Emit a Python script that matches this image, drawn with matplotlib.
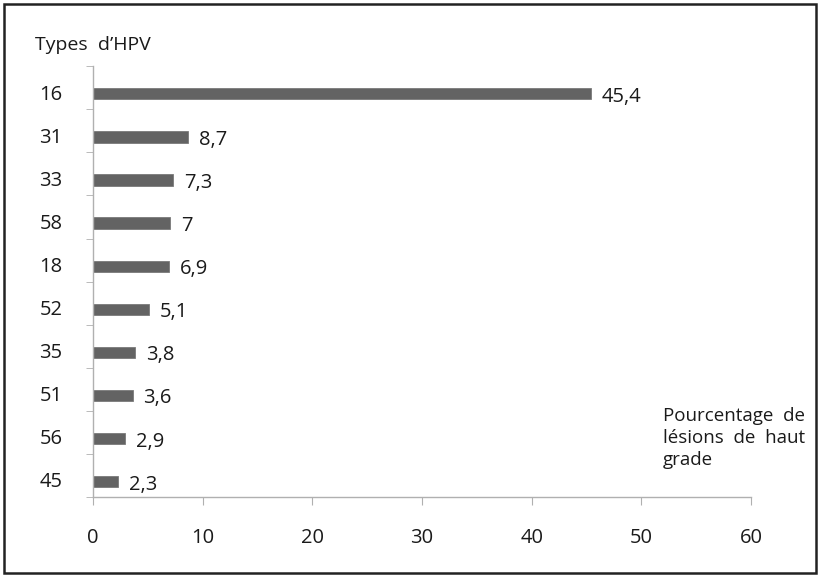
import numpy as np
import matplotlib.pyplot as plt
from matplotlib.patches import Rectangle

plt.rcParams['font.family'] = ['Open Sans', 'DejaVu Sans']

types_hpv = ["16", "31", "33", "58", "18", "52", "35", "51", "56", "45"]
pourcentages = [45.4, 8.7, 7.3, 7, 6.9, 5.1, 3.8, 3.6, 2.9, 2.3]
x_ticks = [0, 10, 20, 30, 40, 50, 60]

fig = plt.figure(figsize=(8.19, 5.76), dpi=100)
ax = fig.add_axes([0.1136, 0.137, 0.8034, 0.748])

# les barres sont un peu décalées vers le bas dans chaque bande
y = np.arange(len(types_hpv))
yb = y + 0.14
ax.barh(yb, pourcentages, height=0.26, color="#636363", edgecolor="#7a7a7a", linewidth=0.6)

for yi, v in zip(yb, pourcentages):
    txt = f"{v:g}".replace(".", ",")
    ax.text(v + 1.0, yi + 0.07, txt, va="center", ha="left", fontsize=14.5, color="#1a1a1a")

ax.set_ylim(len(types_hpv) - 0.5, -0.5)
ax.set_xlim(0, 60)
ax.set_xticks(x_ticks)
ax.set_xticklabels([str(t) for t in x_ticks])
ax.set_yticks(yb - 0.04)
ax.set_yticklabels(types_hpv)
ax.set_yticks(np.arange(-0.5, len(types_hpv)), minor=True)

for s in ["top", "right"]:
    ax.spines[s].set_visible(False)
for s in ["left", "bottom"]:
    ax.spines[s].set_color("#b0b0b0")
    ax.spines[s].set_linewidth(1.0)

ax.tick_params(axis="y", which="major", length=0, pad=22, labelsize=14.5, labelcolor="#1a1a1a")
ax.tick_params(axis="y", which="minor", length=5, color="#b0b0b0", direction="out")
ax.tick_params(axis="x", which="major", length=5.5, color="#b0b0b0", direction="out", pad=17,
               labelsize=14.5, labelcolor="#1a1a1a")

fig.text(35 / 819, 1 - 45 / 576, "Types  d\u2019HPV", ha="left", va="center", fontsize=14, color="#1a1a1a")
fig.text(663 / 819, 1 - 407 / 576, "Pourcentage  de\nlésions  de  haut\ngrade", ha="left", va="top",
         fontsize=13.5, color="#1a1a1a", linespacing=1.3)

# cadre autour de la figure
fig.patches.append(Rectangle((4 / 819, 3 / 576), 812 / 819, 569 / 576, transform=fig.transFigure,
                             fill=False, edgecolor="#222222", linewidth=1.8))

fig.savefig("out.png", dpi=100)
